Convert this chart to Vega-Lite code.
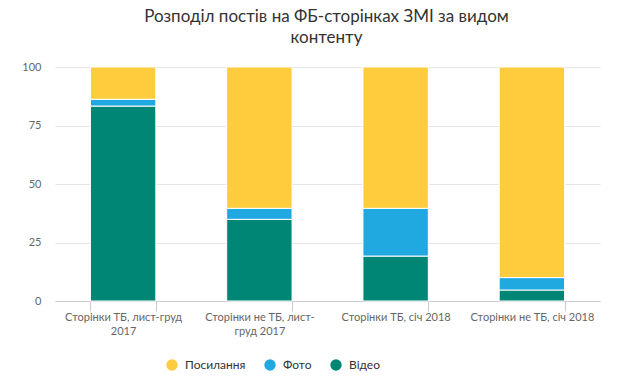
{
  "$schema": "https://vega.github.io/schema/vega-lite/v6.json",
  "width": 545,
  "height": 234,
  "autosize": {"type": "none"},
  "padding": {"left": 55, "top": 67, "right": 25, "bottom": 90},
  "title": {
    "text": ["Розподіл постів на ФБ-сторінках ЗМІ за видом", "контенту"],
    "anchor": "middle",
    "dx": -1,
    "font": "Lato",
    "fontSize": 17,
    "fontWeight": "normal",
    "color": "#333333",
    "lineHeight": 21,
    "offset": 14
  },
  "config": {
    "view": {"stroke": null},
    "font": "Lato"
  },
  "data": {
    "values": [
      {"page": "Сторінки ТБ, лист-груд 2017", "type": "Відео", "k": 1, "value": 83.3},
      {"page": "Сторінки ТБ, лист-груд 2017", "type": "Фото", "k": 2, "value": 2.9},
      {"page": "Сторінки ТБ, лист-груд 2017", "type": "Посилання", "k": 3, "value": 13.8},
      {"page": "Сторінки не ТБ, лист-груд 2017", "type": "Відео", "k": 1, "value": 34.9},
      {"page": "Сторінки не ТБ, лист-груд 2017", "type": "Фото", "k": 2, "value": 4.7},
      {"page": "Сторінки не ТБ, лист-груд 2017", "type": "Посилання", "k": 3, "value": 60.4},
      {"page": "Сторінки ТБ, січ 2018", "type": "Відео", "k": 1, "value": 19.2},
      {"page": "Сторінки ТБ, січ 2018", "type": "Фото", "k": 2, "value": 20.4},
      {"page": "Сторінки ТБ, січ 2018", "type": "Посилання", "k": 3, "value": 60.4},
      {"page": "Сторінки не ТБ, січ 2018", "type": "Відео", "k": 1, "value": 4.7},
      {"page": "Сторінки не ТБ, січ 2018", "type": "Фото", "k": 2, "value": 5.3},
      {"page": "Сторінки не ТБ, січ 2018", "type": "Посилання", "k": 3, "value": 90.0}
    ]
  },
  "mark": {"type": "bar", "stroke": "white", "strokeWidth": 1},
  "encoding": {
    "x": {
      "field": "page",
      "type": "nominal",
      "sort": null,
      "scale": {"paddingInner": 0.52, "paddingOuter": 0.26},
      "axis": {
        "title": null,
        "labelAngle": 0,
        "labelFont": "Lato",
        "labelFontSize": 11,
        "labelColor": "#666666",
        "labelPadding": 0,
        "labelLineHeight": 14,
        "tickBand": "extent",
        "tickSize": 10,
        "tickColor": "#cccccc",
        "domainColor": "#cccccc",
        "labelExpr": "datum.label == 'Сторінки ТБ, лист-груд 2017' ? ['Сторінки ТБ, лист-груд', '2017'] : datum.label == 'Сторінки не ТБ, лист-груд 2017' ? ['Сторінки не ТБ, лист-', 'груд 2017'] : datum.label"
      }
    },
    "y": {
      "field": "value",
      "type": "quantitative",
      "stack": "zero",
      "scale": {"domain": [0, 100]},
      "axis": {
        "title": null,
        "values": [0, 25, 50, 75, 100],
        "domain": false,
        "ticks": false,
        "labelPadding": 14,
        "labelFont": "Lato",
        "labelFontSize": 11,
        "labelColor": "#666666",
        "gridColor": "#e6e6e6"
      }
    },
    "color": {
      "field": "type",
      "type": "nominal",
      "scale": {
        "domain": ["Посилання", "Фото", "Відео"],
        "range": ["#FFCC3D", "#20A8E0", "#008675"]
      },
      "legend": {
        "title": null,
        "orient": "none",
        "legendX": 111,
        "legendY": 292,
        "direction": "horizontal",
        "symbolType": "circle",
        "symbolSize": 130,
        "symbolStrokeWidth": 0,
        "labelFont": "Lato",
        "labelFontSize": 12,
        "labelColor": "#333333",
        "labelOffset": 7,
        "columnPadding": 18
      }
    },
    "order": {"field": "k", "type": "quantitative"}
  }
}
